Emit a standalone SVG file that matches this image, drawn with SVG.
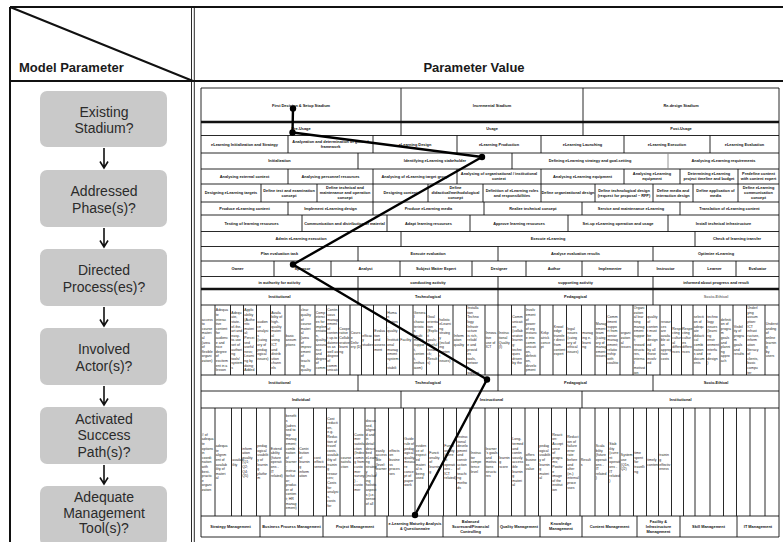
<svg xmlns="http://www.w3.org/2000/svg" width="783" height="542" viewBox="0 0 783 542">
<style>
.frame{fill:none;stroke:#111;stroke-width:2}
.box{fill:#c9c9c9}
.q{font-family:"Liberation Sans",Arial,sans-serif;font-size:14px;fill:#2b2b2b;text-anchor:middle}
.h{font-family:"Liberation Sans",Arial,sans-serif;font-size:13px;font-weight:bold;fill:#1a1a1a}
.arr{fill:none;stroke:#111;stroke-width:1.6}
.grid{fill:none;stroke:#111;stroke-width:0.9}
.thick{fill:none;stroke:#111;stroke-width:2.6}
.t{font-family:"Liberation Sans",Arial,sans-serif;font-size:3.9px;font-weight:bold;fill:#111;text-anchor:middle}
.g{fill:#777}
.s{font-family:"Liberation Sans",Arial,sans-serif;font-size:3.5px;fill:#222}
.path{fill:none;stroke:#000;stroke-width:2.4;stroke-linejoin:round;stroke-linecap:round}
</style>

<g id="frame">
<path class="frame" d="M10 7 H783 M10 7 V542 M10 81 H783 M10 7 L193 81"/>
<path class="grid" d="M191.5 7 V542 M194.3 7 V542"/>
<text class="h" x="19" y="71.5">Model Parameter</text>
<text class="h" x="474" y="71.5" text-anchor="middle">Parameter Value</text>
</g>

<g id="q1"><rect class="box" x="40" y="91" width="127" height="56" rx="7"/><text class="q" x="104" y="116.5">Existing</text><text class="q" x="104" y="133">Stadium?</text></g>
<g id="q2"><rect class="box" x="40" y="170" width="127" height="57" rx="7"/><text class="q" x="104" y="196">Addressed</text><text class="q" x="104" y="212.5">Phase(s)?</text></g>
<g id="q3"><rect class="box" x="40" y="249" width="127" height="57" rx="7"/><text class="q" x="104" y="275">Directed</text><text class="q" x="104" y="291.5">Process(es)?</text></g>
<g id="q4"><rect class="box" x="40" y="328" width="127" height="57" rx="7"/><text class="q" x="104" y="354">Involved</text><text class="q" x="104" y="370.5">Actor(s)?</text></g>
<g id="q5"><rect class="box" x="40" y="407" width="127" height="57" rx="7"/><text class="q" x="104" y="424">Activated</text><text class="q" x="104" y="440.3">Success</text><text class="q" x="104" y="456.6">Path(s)?</text></g>
<g id="q6"><rect class="box" x="40" y="486" width="127" height="60" rx="7"/><text class="q" x="104" y="501.7">Adequate</text><text class="q" x="104" y="517.5">Management</text><text class="q" x="104" y="533.3">Tool(s)?</text></g>

<g id="connectors">
<path class="arr" d="M104 148 V168 M100 161.5 L104 168 L108 161.5"/>
<path class="arr" d="M104 228 V247 M100 240.5 L104 247 L108 240.5"/>
<path class="arr" d="M104 307 V326 M100 319.5 L104 326 L108 319.5"/>
<path class="arr" d="M104 386 V405 M100 398.5 L104 405 L108 398.5"/>
<path class="arr" d="M104 465 V484 M100 477.5 L104 484 L108 477.5"/>
</g>

<g id="table">
<path class="grid" d="M201 88 H779 M201 135.5 H779 M201 153 H779 M201 169 H779 M201 184 H779 M201 202 H779 M201 215 H779 M201 231.5 H779 M201 246.5 H779 M201 261 H779 M201 276.5 H779 M201 305 H779 M201 375 H779 M201 391 H779 M201 408 H779 M201 516 H779 M201 537 H779 M201 88 V537 M779 88 V537"/>
<path class="thick" d="M201 122 H779 M201 289 H779"/>
<path class="grid" d="M401 88V135.5 M583 88V135.5
M288 135.5V153 M373 135.5V153 M457 135.5V153 M541 135.5V153 M624 135.5V153 M710 135.5V153
M358 153V169 M512 153V169
M288 169V184 M373 169V184 M457 169V184 M541 169V184 M624 169V184 M680 169V184 M738 169V184
M261 184V202 M317 184V202 M373 184V202 M428 184V202 M483 184V202 M541 184V202 M595 184V202 M653 184V202 M693 184V202 M738 184V202
M288 202V215 M373 202V215 M484 202V215 M582 202V215 M680 202V215
M302 215V231.5 M387 215V231.5 M470 215V231.5 M568 215V231.5 M668 215V231.5
M401 231.5V246.5 M695 231.5V246.5
M358 246.5V261 M498 246.5V261 M653 246.5V261
M274 261V276.5 M331 261V276.5 M400 261V276.5 M472 261V276.5 M526 261V276.5 M582 261V276.5 M638 261V276.5 M693 261V276.5 M736 261V276.5
M358 276.5V305 M498 276.5V305 M653 276.5V305
M358 375V391 M498 375V391 M653 375V391
M401 391V408 M582 391V408
M260 516V537 M323 516V537 M387 516V537 M443 516V537 M498 516V537 M540 516V537 M582 516V537 M637 516V537 M680 516V537 M737 516V537"/>
<path stroke="#888" stroke-width="0.9" d="M668 153V169"/>
<path class="grid" d="M215 305V375 M230.5 305V375 M243.5 305V375 M256.5 305V375 M270.5 305V375 M285 305V375 M300 305V375 M315 305V375 M326.5 305V375 M338.5 305V375 M350 305V375 M361.5 305V375 M373.5 305V375 M386.5 305V375 M399.5 305V375 M413 305V375 M426.5 305V375 M438.5 305V375 M453 305V375 M466.5 305V375 M485 305V375 M498 305V375 M511.5 305V375 M525 305V375 M540 305V375 M553 305V375 M566.5 305V375 M581.5 305V375 M595 305V375 M606.5 305V375 M620 305V375 M633 305V375 M646.5 305V375 M660 305V375 M671.5 305V375 M681.5 305V375 M693 305V375 M706.5 305V375 M720 305V375 M733 305V375 M746.5 305V375 M765 305V375"/>
<path class="grid" d="M215 408V516 M231.5 408V516 M241.5 408V516 M256.5 408V516 M270 408V516 M285 408V516 M298.5 408V516 M313.5 408V516 M326.5 408V516 M340 408V516 M353.5 408V516 M365 408V516 M375 408V516 M388.5 408V516 M403.5 408V516 M415 408V516 M428.5 408V516 M443.5 408V516 M456.5 408V516 M470 408V516 M485 408V516 M498.5 408V516 M511.5 408V516 M525 408V516 M538.5 408V516 M551.5 408V516 M566.5 408V516 M580 408V516 M595 408V516 M608.5 408V516 M620 408V516 M633.5 408V516 M646.5 408V516 M658.5 408V516 M671.5 408V516 M683.5 408V516 M695 408V516 M710 408V516 M723.5 408V516 M736.5 408V516 M750 408V516 M765 408V516"/>

<g class="t">
<text x="301" y="106.5">First Decision &amp; Setup Stadium</text>
<text x="492" y="106.5">Incremental Stadium</text>
<text x="681" y="106.5">Re-design Stadium</text>
<text x="301" y="130.3">Pre-Usage</text>
<text x="492" y="130.3">Usage</text>
<text x="681" y="130.3">Post-Usage</text>
<text x="244.5" y="145.7">eLearning Initialization and Strategy</text>
<text x="330.5" y="143.2">Analyzation and determination of general</text>
<text x="330.5" y="148.2">framework</text>
<text x="415" y="145.7">eLearning Design</text>
<text x="499" y="145.7">eLearning Production</text>
<text x="582.5" y="145.7">eLearning Launching</text>
<text x="667" y="145.7">eLearning Execution</text>
<text x="744.5" y="145.7">eLearning Evaluation</text>
<text x="279.5" y="162.4">Initialization</text>
<text x="435" y="162.4">Identifying eLearning stakeholder</text>
<text x="590" y="162.4">Defining eLearning strategy and goal-setting</text>
<text x="723.5" y="162.4">Analysing eLearning requirements</text>
<text x="244.5" y="177.9">Analysing external context</text>
<text x="330.5" y="177.9">Analysing personnel resources</text>
<text x="415" y="177.9">Analysing of eLearning target group</text>
<text x="499" y="175.4">Analysing of organisational / institutional</text>
<text x="499" y="180.4">context</text>
<text x="582.5" y="177.9">Analysing eLearning equipment</text>
<text x="652" y="175.4">Analysing eLearning</text>
<text x="652" y="180.4">equipment</text>
<text x="709" y="175.4">Determining eLearning</text>
<text x="709" y="180.4">project timeline and budget</text>
<text x="758.5" y="175.4">Predefine content</text>
<text x="758.5" y="180.4">with content expert</text>
<text x="231" y="194.4">Designing eLearning targets</text>
<text x="289" y="191.9">Define test and examination</text>
<text x="289" y="196.9">concept</text>
<text x="345" y="189.4">Define technical and</text>
<text x="345" y="194.4">maintenance and operation</text>
<text x="345" y="199.4">concept</text>
<text x="400.5" y="194.4">Designing content</text>
<text x="455.5" y="189.4">Define</text>
<text x="455.5" y="194.4">didactical/methodological</text>
<text x="455.5" y="199.4">concept</text>
<text x="512" y="191.9">Definition of eLearning roles</text>
<text x="512" y="196.9">and responsibilities</text>
<text x="568" y="194.4">Define organizational design</text>
<text x="624" y="191.9">Define technological design</text>
<text x="624" y="196.9">(request for proposal – RFP)</text>
<text x="673" y="191.9">Define media and</text>
<text x="673" y="196.9">interaction design</text>
<text x="715.5" y="191.9">Define application of</text>
<text x="715.5" y="196.9">media</text>
<text x="758.5" y="189.4">Define eLearning</text>
<text x="758.5" y="194.4">communication</text>
<text x="758.5" y="199.4">concept</text>
<text x="244.5" y="209.9">Produce eLearning content</text>
<text x="330.5" y="209.9">Implement eLearning design</text>
<text x="428.5" y="209.9">Produce eLearning media</text>
<text x="533" y="209.9">Realize technical concept</text>
<text x="631" y="209.9">Service and maintenance eLearning</text>
<text x="729.5" y="209.9">Translation of eLearning content</text>
<text x="251.5" y="224.6">Testing of learning resources</text>
<text x="344.5" y="224.6">Communication and distribution of material</text>
<text x="428.5" y="224.6">Adapt learning resources</text>
<text x="519" y="224.6">Approve learning resources</text>
<text x="618" y="224.6">Set-up eLearning operation and usage</text>
<text x="723.5" y="224.6">Install technical infrastructure</text>
<text x="301" y="240.4">Admin eLearning execution</text>
<text x="548" y="240.4">Execute eLearning</text>
<text x="737" y="240.4">Check of learning transfer</text>
<text x="279.5" y="255.1">Plan evaluation task</text>
<text x="428" y="255.1">Execute evaluation</text>
<text x="575.5" y="255.1">Analyse evaluation results</text>
<text x="716" y="255.1">Optimize eLearning</text>
<text x="237.5" y="270.1">Owner</text>
<text x="302.5" y="270.1">Sponsor</text>
<text x="365.5" y="270.1">Analyst</text>
<text x="436" y="270.1">Subject Matter Expert</text>
<text x="499" y="270.1">Designer</text>
<text x="554" y="270.1">Author</text>
<text x="610" y="270.1">Implementer</text>
<text x="665.5" y="270.1">Instructor</text>
<text x="714.5" y="270.1">Learner</text>
<text x="757.5" y="270.1">Evaluator</text>
<text x="279.5" y="284.1">in authority for activity</text>
<text x="428" y="284.1">conducting activity</text>
<text x="575.5" y="284.1">supporting activity</text>
<text x="716" y="284.1">informed about progress and result</text>
<text x="279.5" y="298.4">Institutional</text>
<text x="428" y="298.4">Technological</text>
<text x="575.5" y="298.4">Pedagogical</text>
<text x="716" y="298.4" class="g">Socio-Ethical</text>
<text x="279.5" y="384.4">Institutional</text>
<text x="428" y="384.4">Technological</text>
<text x="575.5" y="384.4">Pedagogical</text>
<text x="716" y="384.4">Socio-Ethical</text>
<text x="301" y="400.9">Individual</text>
<text x="491.5" y="400.9">Instructional</text>
<text x="680.5" y="400.9">Institutional</text>
<text x="230.5" y="527.9">Strategy Management</text>
<text x="291.5" y="527.9">Business Process Management</text>
<text x="355" y="527.9">Project Management</text>
<text x="415" y="525.4">e-Learning Maturity Analysis</text>
<text x="415" y="530.4">&amp; Questionnaire</text>
<text x="470.5" y="522.9">Balanced</text>
<text x="470.5" y="527.9">Scorecard/Financial</text>
<text x="470.5" y="532.9">Controlling</text>
<text x="519" y="527.9">Quality Management</text>
<text x="561" y="525.4">Knowledge</text>
<text x="561" y="530.4">Management</text>
<text x="609.5" y="527.9">Content Management</text>
<text x="658.5" y="522.9">Facility &amp;</text>
<text x="658.5" y="527.9">Infrastructure</text>
<text x="658.5" y="532.9">Management</text>
<text x="708.5" y="527.9">Skill Management</text>
<text x="758" y="527.9">IT Management</text>
</g>

<g class="s" id="success-factors">
<text x="201.8" y="320.6">access<tspan x="201.8" dy="4.6">to</tspan><tspan x="201.8" dy="4.6">course</tspan><tspan x="201.8" dy="4.6">materi</tspan><tspan x="201.8" dy="4.6">al</tspan><tspan x="201.8" dy="4.6">(area</tspan><tspan x="201.8" dy="4.6">of</tspan><tspan x="201.8" dy="4.6">flexible</tspan><tspan x="201.8" dy="4.6">organi</tspan><tspan x="201.8" dy="4.6">zation)</tspan></text>
<text x="215.8" y="311.4">Adequa<tspan x="215.8" dy="4.6">te</tspan><tspan x="215.8" dy="4.6">interac</tspan><tspan x="215.8" dy="4.6">tive</tspan><tspan x="215.8" dy="4.6">content</tspan><tspan x="215.8" dy="4.6">for</tspan><tspan x="215.8" dy="4.6">audienc</tspan><tspan x="215.8" dy="4.6">e and</tspan><tspan x="215.8" dy="4.6">nice</tspan><tspan x="215.8" dy="4.6">degree</tspan><tspan x="215.8" dy="4.6">of</tspan><tspan x="215.8" dy="4.6">excitem</tspan><tspan x="215.8" dy="4.6">ent in a</tspan><tspan x="215.8" dy="4.6">lesson</tspan></text>
<text x="231.3" y="313.7">Adequ<tspan x="231.3" dy="4.6">ate,</tspan><tspan x="231.3" dy="4.6">state-</tspan><tspan x="231.3" dy="4.6">of-the-</tspan><tspan x="231.3" dy="4.6">art and</tspan><tspan x="231.3" dy="4.6">easy-</tspan><tspan x="231.3" dy="4.6">to-use</tspan><tspan x="231.3" dy="4.6">set of</tspan><tspan x="231.3" dy="4.6">authori</tspan><tspan x="231.3" dy="4.6">ng</tspan><tspan x="231.3" dy="4.6">tools/</tspan><tspan x="231.3" dy="4.6">system</tspan><tspan x="231.3" dy="4.6">s</tspan></text>
<text x="244.3" y="311.4">Applic<tspan x="244.3" dy="4.6">ability</tspan><tspan x="244.3" dy="4.6">(Authe</tspan><tspan x="244.3" dy="4.6">ntic</tspan><tspan x="244.3" dy="4.6">materi</tspan><tspan x="244.3" dy="4.6">al;</tspan><tspan x="244.3" dy="4.6">Percei</tspan><tspan x="244.3" dy="4.6">ved</tspan><tspan x="244.3" dy="4.6">useful</tspan><tspan x="244.3" dy="4.6">ness;</tspan><tspan x="244.3" dy="4.6">Learni</tspan><tspan x="244.3" dy="4.6">ng by</tspan><tspan x="244.3" dy="4.6">doing;</tspan><tspan x="244.3" dy="4.6">Added</tspan></text>
<text x="257.3" y="322.9">audien<tspan x="257.3" dy="4.6">ce</tspan><tspan x="257.3" dy="4.6">analysi</tspan><tspan x="257.3" dy="4.6">s</tspan><tspan x="257.3" dy="4.6">(categ</tspan><tspan x="257.3" dy="4.6">ory of</tspan><tspan x="257.3" dy="4.6">pedag</tspan><tspan x="257.3" dy="4.6">ogical</tspan><tspan x="257.3" dy="4.6">issues)</tspan></text>
<text x="271.3" y="313.7">Availa<tspan x="271.3" dy="4.6">bility of</tspan><tspan x="271.3" dy="4.6">high-</tspan><tspan x="271.3" dy="4.6">quality</tspan><tspan x="271.3" dy="4.6">materi</tspan><tspan x="271.3" dy="4.6">al</tspan><tspan x="271.3" dy="4.6">using</tspan><tspan x="271.3" dy="4.6">ICT</tspan><tspan x="271.3" dy="4.6">and</tspan><tspan x="271.3" dy="4.6">distrib</tspan><tspan x="271.3" dy="4.6">ution</tspan><tspan x="271.3" dy="4.6">chann</tspan><tspan x="271.3" dy="4.6">els</tspan></text>
<text x="285.8" y="336.7">basic<tspan x="285.8" dy="4.6">assum</tspan><tspan x="285.8" dy="4.6">ptions</tspan></text>
<text x="300.8" y="311.4">clear<tspan x="300.8" dy="4.6">quality</tspan><tspan x="300.8" dy="4.6">of</tspan><tspan x="300.8" dy="4.6">course</tspan><tspan x="300.8" dy="4.6">materi</tspan><tspan x="300.8" dy="4.6">al</tspan><tspan x="300.8" dy="4.6">(area</tspan><tspan x="300.8" dy="4.6">of</tspan><tspan x="300.8" dy="4.6">improv</tspan><tspan x="300.8" dy="4.6">ement</tspan><tspan x="300.8" dy="4.6">of</tspan><tspan x="300.8" dy="4.6">teachi</tspan><tspan x="300.8" dy="4.6">ng</tspan><tspan x="300.8" dy="4.6">quality</tspan></text>
<text x="315.8" y="313.7">Comp<tspan x="315.8" dy="4.6">etenci</tspan><tspan x="315.8" dy="4.6">es for</tspan><tspan x="315.8" dy="4.6">implem</tspan><tspan x="315.8" dy="4.6">entatio</tspan><tspan x="315.8" dy="4.6">n,</tspan><tspan x="315.8" dy="4.6">quality</tspan><tspan x="315.8" dy="4.6">assura</tspan><tspan x="315.8" dy="4.6">nce</tspan><tspan x="315.8" dy="4.6">and</tspan><tspan x="315.8" dy="4.6">degree</tspan><tspan x="315.8" dy="4.6">of</tspan><tspan x="315.8" dy="4.6">comm</tspan></text>
<text x="327.3" y="311.4">Contin<tspan x="327.3" dy="4.6">uous</tspan><tspan x="327.3" dy="4.6">manag</tspan><tspan x="327.3" dy="4.6">ement</tspan><tspan x="327.3" dy="4.6">of</tspan><tspan x="327.3" dy="4.6">conten</tspan><tspan x="327.3" dy="4.6">t up-to</tspan><tspan x="327.3" dy="4.6">datene</tspan><tspan x="327.3" dy="4.6">ss as</tspan><tspan x="327.3" dy="4.6">well as</tspan><tspan x="327.3" dy="4.6">degree</tspan><tspan x="327.3" dy="4.6">of</tspan><tspan x="327.3" dy="4.6">comm</tspan><tspan x="327.3" dy="4.6">unicati</tspan></text>
<text x="339.3" y="329.8">Coope<tspan x="339.3" dy="4.6">rative</tspan><tspan x="339.3" dy="4.6">Collab</tspan><tspan x="339.3" dy="4.6">orative</tspan><tspan x="339.3" dy="4.6">learni</tspan><tspan x="339.3" dy="4.6">ng</tspan></text>
<text x="350.8" y="334.4">Cours<tspan x="350.8" dy="4.6">e</tspan><tspan x="350.8" dy="4.6">Deliv</tspan><tspan x="350.8" dy="4.6">ery (D)</tspan></text>
<text x="362.3" y="336.7">efficac<tspan x="362.3" dy="4.6">y</tspan><tspan x="362.3" dy="4.6">studies</tspan></text>
<text x="374.3" y="332.1">Evalua<tspan x="374.3" dy="4.6">tion</tspan><tspan x="374.3" dy="4.6">and</tspan><tspan x="374.3" dy="4.6">assess</tspan><tspan x="374.3" dy="4.6">ment</tspan></text>
<text x="387.3" y="313.7">Huma<tspan x="387.3" dy="4.6">n</tspan><tspan x="387.3" dy="4.6">factors</tspan><tspan x="387.3" dy="4.6">,</tspan><tspan x="387.3" dy="4.6">quality</tspan><tspan x="387.3" dy="4.6">,</tspan><tspan x="387.3" dy="4.6">Instituti</tspan><tspan x="387.3" dy="4.6">onal</tspan><tspan x="387.3" dy="4.6">manag</tspan><tspan x="387.3" dy="4.6">ement</tspan><tspan x="387.3" dy="4.6">system</tspan><tspan x="387.3" dy="4.6">,</tspan><tspan x="387.3" dy="4.6">stabili</tspan></text>
<text x="400.3" y="341.3">Facility</text>
<text x="413.8" y="313.7">Genera<tspan x="413.8" dy="4.6">l</tspan><tspan x="413.8" dy="4.6">charac</tspan><tspan x="413.8" dy="4.6">teristic</tspan><tspan x="413.8" dy="4.6">s</tspan><tspan x="413.8" dy="4.6">(multi</tspan><tspan x="413.8" dy="4.6">media</tspan><tspan x="413.8" dy="4.6">suppor</tspan><tspan x="413.8" dy="4.6">t,</tspan><tspan x="413.8" dy="4.6">conten</tspan><tspan x="413.8" dy="4.6">t,</tspan><tspan x="413.8" dy="4.6">enthus</tspan><tspan x="413.8" dy="4.6">iasm)</tspan></text>
<text x="427.3" y="318.3">Goal<tspan x="427.3" dy="4.6">orienta</tspan><tspan x="427.3" dy="4.6">tion</tspan><tspan x="427.3" dy="4.6">(Explic</tspan><tspan x="427.3" dy="4.6">it</tspan><tspan x="427.3" dy="4.6">goals;</tspan><tspan x="427.3" dy="4.6">Useful</tspan><tspan x="427.3" dy="4.6">feedba</tspan><tspan x="427.3" dy="4.6">ck;</tspan><tspan x="427.3" dy="4.6">Result</tspan><tspan x="427.3" dy="4.6">s)</tspan></text>
<text x="439.3" y="320.6">holistic<tspan x="439.3" dy="4.6">eLearni</tspan><tspan x="439.3" dy="4.6">ng</tspan><tspan x="439.3" dy="4.6">strateg</tspan><tspan x="439.3" dy="4.6">y</tspan><tspan x="439.3" dy="4.6">(includ</tspan><tspan x="439.3" dy="4.6">ing</tspan><tspan x="439.3" dy="4.6">conten</tspan><tspan x="439.3" dy="4.6">t</tspan><tspan x="439.3" dy="4.6">issues)</tspan></text>
<text x="453.8" y="336.7">Inform<tspan x="453.8" dy="4.6">ation</tspan><tspan x="453.8" dy="4.6">quality</tspan></text>
<text x="467.3" y="309.1">Installa<tspan x="467.3" dy="4.6">tion</tspan><tspan x="467.3" dy="4.6">Techno</tspan><tspan x="467.3" dy="4.6">logy</tspan><tspan x="467.3" dy="4.6">Infrastr</tspan><tspan x="467.3" dy="4.6">ucture</tspan><tspan x="467.3" dy="4.6">is rich,</tspan><tspan x="467.3" dy="4.6">reliabl</tspan><tspan x="467.3" dy="4.6">e and</tspan><tspan x="467.3" dy="4.6">provid</tspan><tspan x="467.3" dy="4.6">es</tspan><tspan x="467.3" dy="4.6">tools,</tspan><tspan x="467.3" dy="4.6">networ</tspan><tspan x="467.3" dy="4.6">k,</tspan><tspan x="467.3" dy="4.6">support</tspan></text>
<text x="485.8" y="334.4">Innova<tspan x="485.8" dy="4.6">tive</tspan><tspan x="485.8" dy="4.6">use of</tspan><tspan x="485.8" dy="4.6">ICT</tspan></text>
<text x="498.8" y="334.4">Instruc<tspan x="498.8" dy="4.6">tional</tspan><tspan x="498.8" dy="4.6">Quality</tspan><tspan x="498.8" dy="4.6">(I)</tspan></text>
<text x="512.3" y="318.3">Comm<tspan x="512.3" dy="4.6">unicati</tspan><tspan x="512.3" dy="4.6">on</tspan><tspan x="512.3" dy="4.6">(collab</tspan><tspan x="512.3" dy="4.6">orative</tspan><tspan x="512.3" dy="4.6">learnin</tspan><tspan x="512.3" dy="4.6">g:</tspan><tspan x="512.3" dy="4.6">techni</tspan><tspan x="512.3" dy="4.6">ques</tspan><tspan x="512.3" dy="4.6">driven</tspan><tspan x="512.3" dy="4.6">by the</tspan></text>
<text x="525.8" y="311.4">Involv<tspan x="525.8" dy="4.6">ement</tspan><tspan x="525.8" dy="4.6">of</tspan><tspan x="525.8" dy="4.6">power</tspan><tspan x="525.8" dy="4.6">of org</tspan><tspan x="525.8" dy="4.6">instanc</tspan><tspan x="525.8" dy="4.6">e into</tspan><tspan x="525.8" dy="4.6">comm</tspan><tspan x="525.8" dy="4.6">unicati</tspan><tspan x="525.8" dy="4.6">on,</tspan><tspan x="525.8" dy="4.6">definiti</tspan><tspan x="525.8" dy="4.6">on,</tspan><tspan x="525.8" dy="4.6">develo</tspan><tspan x="525.8" dy="4.6">pment</tspan></text>
<text x="540.8" y="334.4">Kirkp<tspan x="540.8" dy="4.6">atrick</tspan><tspan x="540.8" dy="4.6">conce</tspan><tspan x="540.8" dy="4.6">pt</tspan></text>
<text x="553.8" y="327.5">Knowl<tspan x="553.8" dy="4.6">edge</tspan><tspan x="553.8" dy="4.6">transfe</tspan><tspan x="553.8" dy="4.6">r direct</tspan><tspan x="553.8" dy="4.6">from</tspan><tspan x="553.8" dy="4.6">content</tspan><tspan x="553.8" dy="4.6">expert</tspan></text>
<text x="567.3" y="329.8">legal<tspan x="567.3" dy="4.6">issues</tspan><tspan x="567.3" dy="4.6">(categ</tspan><tspan x="567.3" dy="4.6">ory of</tspan><tspan x="567.3" dy="4.6">ethical</tspan><tspan x="567.3" dy="4.6">issues)</tspan></text>
<text x="582.3" y="334.4">manag<tspan x="582.3" dy="4.6">ing e-</tspan><tspan x="582.3" dy="4.6">learni</tspan><tspan x="582.3" dy="4.6">ng</tspan></text>
<text x="595.8" y="325.2">Manag<tspan x="595.8" dy="4.6">ement</tspan><tspan x="595.8" dy="4.6">team</tspan><tspan x="595.8" dy="4.6">(categ</tspan><tspan x="595.8" dy="4.6">ory of</tspan><tspan x="595.8" dy="4.6">manag</tspan><tspan x="595.8" dy="4.6">ement</tspan><tspan x="595.8" dy="4.6">issues)</tspan></text>
<text x="607.3" y="318.3">Comm<tspan x="607.3" dy="4.6">itment</tspan><tspan x="607.3" dy="4.6">suppo</tspan><tspan x="607.3" dy="4.6">rt from</tspan><tspan x="607.3" dy="4.6">senior</tspan><tspan x="607.3" dy="4.6">manag</tspan><tspan x="607.3" dy="4.6">ement;</tspan><tspan x="607.3" dy="4.6">relatio</tspan><tspan x="607.3" dy="4.6">nship</tspan><tspan x="607.3" dy="4.6">with</tspan><tspan x="607.3" dy="4.6">coalitio</tspan></text>
<text x="620.8" y="334.4">organi<tspan x="620.8" dy="4.6">zation</tspan><tspan x="620.8" dy="4.6">al</tspan><tspan x="620.8" dy="4.6">issues</tspan></text>
<text x="633.8" y="309.1">Organi<tspan x="633.8" dy="4.6">zation</tspan><tspan x="633.8" dy="4.6">al lear</tspan><tspan x="633.8" dy="4.6">ning</tspan><tspan x="633.8" dy="4.6">manag</tspan><tspan x="633.8" dy="4.6">ement</tspan><tspan x="633.8" dy="4.6">suppor</tspan><tspan x="633.8" dy="4.6">t;</tspan><tspan x="633.8" dy="4.6">reward</tspan><tspan x="633.8" dy="4.6">structu</tspan><tspan x="633.8" dy="4.6">res,</tspan><tspan x="633.8" dy="4.6">interna</tspan><tspan x="633.8" dy="4.6">l</tspan><tspan x="633.8" dy="4.6">motivat</tspan><tspan x="633.8" dy="4.6">ion</tspan></text>
<text x="647.3" y="318.3">quality<tspan x="647.3" dy="4.6">of</tspan><tspan x="647.3" dy="4.6">conten</tspan><tspan x="647.3" dy="4.6">t must</tspan><tspan x="647.3" dy="4.6">be</tspan><tspan x="647.3" dy="4.6">design</tspan><tspan x="647.3" dy="4.6">ed</tspan><tspan x="647.3" dy="4.6">by all</tspan><tspan x="647.3" dy="4.6">those</tspan><tspan x="647.3" dy="4.6">involv</tspan><tspan x="647.3" dy="4.6">ed</tspan></text>
<text x="660.8" y="322.9">resour<tspan x="660.8" dy="4.6">ces</tspan><tspan x="660.8" dy="4.6">are</tspan><tspan x="660.8" dy="4.6">availa</tspan><tspan x="660.8" dy="4.6">ble at</tspan><tspan x="660.8" dy="4.6">an</tspan><tspan x="660.8" dy="4.6">approp</tspan><tspan x="660.8" dy="4.6">riate</tspan><tspan x="660.8" dy="4.6">costs</tspan></text>
<text x="672.3" y="329.8">Respe<tspan x="672.3" dy="4.6">cting</tspan><tspan x="672.3" dy="4.6">cultur</tspan><tspan x="672.3" dy="4.6">al</tspan><tspan x="672.3" dy="4.6">differe</tspan><tspan x="672.3" dy="4.6">nces</tspan></text>
<text x="682.3" y="329.8">Respe<tspan x="682.3" dy="4.6">cting</tspan><tspan x="682.3" dy="4.6">cultur</tspan><tspan x="682.3" dy="4.6">es</tspan><tspan x="682.3" dy="4.6">differe</tspan><tspan x="682.3" dy="4.6">nces</tspan></text>
<text x="693.8" y="318.3">selecti<tspan x="693.8" dy="4.6">on of</tspan><tspan x="693.8" dy="4.6">adequ</tspan><tspan x="693.8" dy="4.6">ate</tspan><tspan x="693.8" dy="4.6">didacti</tspan><tspan x="693.8" dy="4.6">cal</tspan><tspan x="693.8" dy="4.6">combi</tspan><tspan x="693.8" dy="4.6">nation</tspan><tspan x="693.8" dy="4.6">s and</tspan><tspan x="693.8" dy="4.6">docum</tspan><tspan x="693.8" dy="4.6">ents</tspan></text>
<text x="707.3" y="318.3">techno<tspan x="707.3" dy="4.6">logy</tspan><tspan x="707.3" dy="4.6">issues</tspan><tspan x="707.3" dy="4.6">(learni</tspan><tspan x="707.3" dy="4.6">ng</tspan><tspan x="707.3" dy="4.6">envir</tspan><tspan x="707.3" dy="4.6">onment</tspan><tspan x="707.3" dy="4.6">interfa</tspan><tspan x="707.3" dy="4.6">ce</tspan><tspan x="707.3" dy="4.6">design</tspan><tspan x="707.3" dy="4.6">)</tspan></text>
<text x="720.8" y="320.6">definiti<tspan x="720.8" dy="4.6">on of</tspan><tspan x="720.8" dy="4.6">progra</tspan><tspan x="720.8" dy="4.6">m</tspan><tspan x="720.8" dy="4.6">goals</tspan><tspan x="720.8" dy="4.6">and</tspan><tspan x="720.8" dy="4.6">planni</tspan><tspan x="720.8" dy="4.6">ng</tspan><tspan x="720.8" dy="4.6">appro</tspan><tspan x="720.8" dy="4.6">ach</tspan></text>
<text x="733.8" y="327.5">Visibil<tspan x="733.8" dy="4.6">ity of</tspan><tspan x="733.8" dy="4.6">progra</tspan><tspan x="733.8" dy="4.6">m</tspan><tspan x="733.8" dy="4.6">goals</tspan><tspan x="733.8" dy="4.6">and</tspan><tspan x="733.8" dy="4.6">results</tspan></text>
<text x="747.3" y="309.1">Underl<tspan x="747.3" dy="4.6">ying</tspan><tspan x="747.3" dy="4.6">assum</tspan><tspan x="747.3" dy="4.6">ption:</tspan><tspan x="747.3" dy="4.6">ICT</tspan><tspan x="747.3" dy="4.6">infrast</tspan><tspan x="747.3" dy="4.6">ructure,</tspan><tspan x="747.3" dy="4.6">inform</tspan><tspan x="747.3" dy="4.6">ation</tspan><tspan x="747.3" dy="4.6">literacy</tspan><tspan x="747.3" dy="4.6">of</tspan><tspan x="747.3" dy="4.6">clients,</tspan><tspan x="747.3" dy="4.6">basic</tspan><tspan x="747.3" dy="4.6">compu</tspan><tspan x="747.3" dy="4.6">ter</tspan></text>
<text x="765.8" y="325.2">Underst<tspan x="765.8" dy="4.6">anding</tspan><tspan x="765.8" dy="4.6">of</tspan><tspan x="765.8" dy="4.6">online</tspan><tspan x="765.8" dy="4.6">learnin</tspan><tspan x="765.8" dy="4.6">g</tspan><tspan x="765.8" dy="4.6">by</tspan><tspan x="765.8" dy="4.6">users</tspan></text>
</g>

<g class="s" id="success-paths">
<text x="201.8" y="435.7"># of<tspan x="201.8" dy="4.6">adequa</tspan><tspan x="201.8" dy="4.6">te</tspan><tspan x="201.8" dy="4.6">options</tspan><tspan x="201.8" dy="4.6">in</tspan><tspan x="201.8" dy="4.6">coordi</tspan><tspan x="201.8" dy="4.6">nation</tspan><tspan x="201.8" dy="4.6">with</tspan><tspan x="201.8" dy="4.6">best-</tspan><tspan x="201.8" dy="4.6">practic</tspan><tspan x="201.8" dy="4.6">e</tspan><tspan x="201.8" dy="4.6">organi</tspan><tspan x="201.8" dy="4.6">zation</tspan></text>
<text x="215.8" y="447.2">adequa<tspan x="215.8" dy="4.6">te</tspan><tspan x="215.8" dy="4.6">alignm</tspan><tspan x="215.8" dy="4.6">ent of</tspan><tspan x="215.8" dy="4.6">availab</tspan><tspan x="215.8" dy="4.6">ility of</tspan><tspan x="215.8" dy="4.6">materi</tspan><tspan x="215.8" dy="4.6">al</tspan></text>
<text x="232.3" y="461">availab<tspan x="232.3" dy="4.6">ility</tspan></text>
<text x="242.3" y="449.5">inform<tspan x="242.3" dy="4.6">ation</tspan><tspan x="242.3" dy="4.6">quality</tspan><tspan x="242.3" dy="4.6">(Q1;</tspan><tspan x="242.3" dy="4.6">Q2;</tspan><tspan x="242.3" dy="4.6">Q4;</tspan><tspan x="242.3" dy="4.6">Q5)</tspan></text>
<text x="257.3" y="447.2">pedag<tspan x="257.3" dy="4.6">ogical</tspan><tspan x="257.3" dy="4.6">usabilit</tspan><tspan x="257.3" dy="4.6">y of</tspan><tspan x="257.3" dy="4.6">learnin</tspan><tspan x="257.3" dy="4.6">g</tspan><tspan x="257.3" dy="4.6">platfor</tspan><tspan x="257.3" dy="4.6">m</tspan></text>
<text x="270.8" y="449.5">Extend<tspan x="270.8" dy="4.6">ability</tspan><tspan x="270.8" dy="4.6">(future</tspan><tspan x="270.8" dy="4.6">operati</tspan><tspan x="270.8" dy="4.6">ons -</tspan><tspan x="270.8" dy="4.6">IT</tspan><tspan x="270.8" dy="4.6">related)</tspan></text>
<text x="285.8" y="417.3">benefit<tspan x="285.8" dy="4.6">s</tspan><tspan x="285.8" dy="4.6">(adres</tspan><tspan x="285.8" dy="4.6">sed to</tspan><tspan x="285.8" dy="4.6">top</tspan><tspan x="285.8" dy="4.6">manag</tspan><tspan x="285.8" dy="4.6">ement;</tspan><tspan x="285.8" dy="4.6">combi</tspan><tspan x="285.8" dy="4.6">nation</tspan><tspan x="285.8" dy="4.6">of</tspan><tspan x="285.8" dy="4.6">learner</tspan><tspan x="285.8" dy="4.6">;</tspan><tspan x="285.8" dy="4.6">instruc</tspan><tspan x="285.8" dy="4.6">tor/tut</tspan><tspan x="285.8" dy="4.6">or;</tspan><tspan x="285.8" dy="4.6">produc</tspan><tspan x="285.8" dy="4.6">er of</tspan><tspan x="285.8" dy="4.6">conten</tspan><tspan x="285.8" dy="4.6">t; HR</tspan><tspan x="285.8" dy="4.6">manag</tspan><tspan x="285.8" dy="4.6">ement)</tspan></text>
<text x="299.3" y="449.5">Contri<tspan x="299.3" dy="4.6">bution</tspan><tspan x="299.3" dy="4.6">of</tspan><tspan x="299.3" dy="4.6">learnin</tspan><tspan x="299.3" dy="4.6">g</tspan><tspan x="299.3" dy="4.6">inform</tspan><tspan x="299.3" dy="4.6">ation</tspan></text>
<text x="314.3" y="458.7">cost<tspan x="314.3" dy="4.6">effecti</tspan><tspan x="314.3" dy="4.6">veness</tspan></text>
<text x="327.3" y="419.6">Cost<tspan x="327.3" dy="4.6">reducti</tspan><tspan x="327.3" dy="4.6">on,</tspan><tspan x="327.3" dy="4.6">e.g.</tspan><tspan x="327.3" dy="4.6">Reduc</tspan><tspan x="327.3" dy="4.6">tion of</tspan><tspan x="327.3" dy="4.6">travel</tspan><tspan x="327.3" dy="4.6">costs,</tspan><tspan x="327.3" dy="4.6">availab</tspan><tspan x="327.3" dy="4.6">ility of</tspan><tspan x="327.3" dy="4.6">trainin</tspan><tspan x="327.3" dy="4.6">g</tspan><tspan x="327.3" dy="4.6">resour</tspan><tspan x="327.3" dy="4.6">ces;</tspan><tspan x="327.3" dy="4.6">Costs</tspan><tspan x="327.3" dy="4.6">for</tspan><tspan x="327.3" dy="4.6">analysi</tspan><tspan x="327.3" dy="4.6">s,</tspan><tspan x="327.3" dy="4.6">costs</tspan><tspan x="327.3" dy="4.6">for</tspan></text>
<text x="340.8" y="458.7">course<tspan x="340.8" dy="4.6">satisfa</tspan><tspan x="340.8" dy="4.6">ction</tspan></text>
<text x="354.3" y="435.7">Custo<tspan x="354.3" dy="4.6">mer</tspan><tspan x="354.3" dy="4.6">satisfa</tspan><tspan x="354.3" dy="4.6">ction</tspan><tspan x="354.3" dy="4.6">(Index</tspan><tspan x="354.3" dy="4.6">comin</tspan><tspan x="354.3" dy="4.6">g from</tspan><tspan x="354.3" dy="4.6">custo</tspan><tspan x="354.3" dy="4.6">mer</tspan><tspan x="354.3" dy="4.6">survey</tspan><tspan x="354.3" dy="4.6">) -</tspan><tspan x="354.3" dy="4.6">custo</tspan><tspan x="354.3" dy="4.6">mer</tspan></text>
<text x="365.8" y="421.9">discus<tspan x="365.8" dy="4.6">sed,</tspan><tspan x="365.8" dy="4.6">aligne</tspan><tspan x="365.8" dy="4.6">d and</tspan><tspan x="365.8" dy="4.6">in</tspan><tspan x="365.8" dy="4.6">detail</tspan><tspan x="365.8" dy="4.6">descri</tspan><tspan x="365.8" dy="4.6">bed</tspan><tspan x="365.8" dy="4.6">eLearni</tspan><tspan x="365.8" dy="4.6">ng</tspan><tspan x="365.8" dy="4.6">strateg</tspan><tspan x="365.8" dy="4.6">y</tspan><tspan x="365.8" dy="4.6">(includ</tspan><tspan x="365.8" dy="4.6">ing</tspan><tspan x="365.8" dy="4.6">holistic</tspan><tspan x="365.8" dy="4.6">aspect</tspan><tspan x="365.8" dy="4.6">s (i.e.</tspan><tspan x="365.8" dy="4.6">sense</tspan><tspan x="365.8" dy="4.6">of all</tspan></text>
<text x="375.8" y="451.8">easily<tspan x="375.8" dy="4.6">access</tspan><tspan x="375.8" dy="4.6">ible</tspan><tspan x="375.8" dy="4.6">(level:</tspan><tspan x="375.8" dy="4.6">learner</tspan><tspan x="375.8" dy="4.6">)</tspan></text>
<text x="389.3" y="451.8">effects<tspan x="389.3" dy="4.6">on</tspan><tspan x="389.3" dy="4.6">busine</tspan><tspan x="389.3" dy="4.6">ss</tspan><tspan x="389.3" dy="4.6">proces</tspan><tspan x="389.3" dy="4.6">ses</tspan></text>
<text x="404.3" y="440.3">Guide<tspan x="404.3" dy="4.6">rule of</tspan><tspan x="404.3" dy="4.6">pedag</tspan><tspan x="404.3" dy="4.6">ogical,</tspan><tspan x="404.3" dy="4.6">quality-</tspan><tspan x="404.3" dy="4.6">measu</tspan><tspan x="404.3" dy="4.6">re</tspan><tspan x="404.3" dy="4.6">conce</tspan><tspan x="404.3" dy="4.6">pt of</tspan><tspan x="404.3" dy="4.6">paper</tspan><tspan x="404.3" dy="4.6">work</tspan></text>
<text x="415.8" y="447.2">eviden<tspan x="415.8" dy="4.6">ce of</tspan><tspan x="415.8" dy="4.6">expect</tspan><tspan x="415.8" dy="4.6">ed</tspan><tspan x="415.8" dy="4.6">materi</tspan><tspan x="415.8" dy="4.6">al is</tspan><tspan x="415.8" dy="4.6">being</tspan><tspan x="415.8" dy="4.6">used</tspan></text>
<text x="429.3" y="454.1">Functi<tspan x="429.3" dy="4.6">onality</tspan><tspan x="429.3" dy="4.6">of</tspan><tspan x="429.3" dy="4.6">learnin</tspan><tspan x="429.3" dy="4.6">g</tspan></text>
<text x="444.3" y="447.2">Functi<tspan x="444.3" dy="4.6">onality</tspan><tspan x="444.3" dy="4.6">(curre</tspan><tspan x="444.3" dy="4.6">nt</tspan><tspan x="444.3" dy="4.6">operati</tspan><tspan x="444.3" dy="4.6">ons -</tspan><tspan x="444.3" dy="4.6">ICT</tspan><tspan x="444.3" dy="4.6">related)</tspan></text>
<text x="457.3" y="438">Instruc<tspan x="457.3" dy="4.6">tional</tspan><tspan x="457.3" dy="4.6">develo</tspan><tspan x="457.3" dy="4.6">pment</tspan><tspan x="457.3" dy="4.6">and</tspan><tspan x="457.3" dy="4.6">constr</tspan><tspan x="457.3" dy="4.6">uction</tspan><tspan x="457.3" dy="4.6">of</tspan><tspan x="457.3" dy="4.6">teachi</tspan><tspan x="457.3" dy="4.6">ng</tspan><tspan x="457.3" dy="4.6">metho</tspan><tspan x="457.3" dy="4.6">ds</tspan></text>
<text x="470.8" y="454.1">Instruc<tspan x="470.8" dy="4.6">tor</tspan><tspan x="470.8" dy="4.6">compe</tspan><tspan x="470.8" dy="4.6">tence</tspan><tspan x="470.8" dy="4.6">level</tspan></text>
<text x="485.8" y="449.5">learner<tspan x="485.8" dy="4.6">'s goals</tspan><tspan x="485.8" dy="4.6">and</tspan><tspan x="485.8" dy="4.6">motiva</tspan><tspan x="485.8" dy="4.6">tions</tspan><tspan x="485.8" dy="4.6">structu</tspan><tspan x="485.8" dy="4.6">res</tspan></text>
<text x="499.3" y="458.7">learnin<tspan x="499.3" dy="4.6">g</tspan><tspan x="499.3" dy="4.6">score</tspan></text>
<text x="512.3" y="440.3">Long-<tspan x="512.3" dy="4.6">termed</tspan><tspan x="512.3" dy="4.6">and</tspan><tspan x="512.3" dy="4.6">contin</tspan><tspan x="512.3" dy="4.6">uously</tspan><tspan x="512.3" dy="4.6">access</tspan><tspan x="512.3" dy="4.6">ible</tspan><tspan x="512.3" dy="4.6">learnin</tspan><tspan x="512.3" dy="4.6">g</tspan><tspan x="512.3" dy="4.6">materi</tspan><tspan x="512.3" dy="4.6">al</tspan></text>
<text x="525.8" y="456.4">offers<tspan x="525.8" dy="4.6">busine</tspan><tspan x="525.8" dy="4.6">ss</tspan><tspan x="525.8" dy="4.6">value</tspan></text>
<text x="539.3" y="447.2">pedag<tspan x="539.3" dy="4.6">ogical</tspan><tspan x="539.3" dy="4.6">usabilit</tspan><tspan x="539.3" dy="4.6">y of</tspan><tspan x="539.3" dy="4.6">learnin</tspan><tspan x="539.3" dy="4.6">g</tspan><tspan x="539.3" dy="4.6">materi</tspan><tspan x="539.3" dy="4.6">al</tspan></text>
<text x="552.3" y="435.7">Reacti<tspan x="552.3" dy="4.6">on:</tspan><tspan x="552.3" dy="4.6">Accept</tspan><tspan x="552.3" dy="4.6">ance</tspan><tspan x="552.3" dy="4.6">of</tspan><tspan x="552.3" dy="4.6">progra</tspan><tspan x="552.3" dy="4.6">ms;</tspan><tspan x="552.3" dy="4.6">Positiv</tspan><tspan x="552.3" dy="4.6">e</tspan><tspan x="552.3" dy="4.6">image</tspan><tspan x="552.3" dy="4.6">of the</tspan><tspan x="552.3" dy="4.6">institut</tspan><tspan x="552.3" dy="4.6">ion</tspan></text>
<text x="567.3" y="438">Reduct<tspan x="567.3" dy="4.6">ion of</tspan><tspan x="567.3" dy="4.6">failure</tspan><tspan x="567.3" dy="4.6">error</tspan><tspan x="567.3" dy="4.6">rate</tspan><tspan x="567.3" dy="4.6">before</tspan><tspan x="567.3" dy="4.6">and</tspan><tspan x="567.3" dy="4.6">after</tspan><tspan x="567.3" dy="4.6">(in-)</tspan><tspan x="567.3" dy="4.6">internal</tspan><tspan x="567.3" dy="4.6">proce</tspan><tspan x="567.3" dy="4.6">sses</tspan></text>
<text x="580.8" y="461">Result<tspan x="580.8" dy="4.6">s</tspan></text>
<text x="595.8" y="447.2">Scala<tspan x="595.8" dy="4.6">bility</tspan><tspan x="595.8" dy="4.6">(future</tspan><tspan x="595.8" dy="4.6">operati</tspan><tspan x="595.8" dy="4.6">ons -</tspan><tspan x="595.8" dy="4.6">IT</tspan><tspan x="595.8" dy="4.6">related</tspan><tspan x="595.8" dy="4.6">)</tspan></text>
<text x="609.3" y="444.9">Stab<tspan x="609.3" dy="4.6">ility</tspan><tspan x="609.3" dy="4.6">(curre</tspan><tspan x="609.3" dy="4.6">nt</tspan><tspan x="609.3" dy="4.6">operati</tspan><tspan x="609.3" dy="4.6">ons -</tspan><tspan x="609.3" dy="4.6">IT</tspan><tspan x="609.3" dy="4.6">related</tspan><tspan x="609.3" dy="4.6">)</tspan></text>
<text x="620.8" y="456.4">System<tspan x="620.8" dy="4.6">use</tspan><tspan x="620.8" dy="4.6">(Q1n,</tspan><tspan x="620.8" dy="4.6">Q2)</tspan></text>
<text x="634.3" y="454.1">time<tspan x="634.3" dy="4.6">spent</tspan><tspan x="634.3" dy="4.6">for</tspan><tspan x="634.3" dy="4.6">travelli</tspan><tspan x="634.3" dy="4.6">ng</tspan></text>
<text x="647.3" y="461">timely<tspan x="647.3" dy="4.6">content</tspan></text>
<text x="659.3" y="456.4">trainin<tspan x="659.3" dy="4.6">g</tspan><tspan x="659.3" dy="4.6">effectiv</tspan><tspan x="659.3" dy="4.6">eness</tspan></text>
</g>
</g>

<g id="selection-path">
<polyline class="path" points="293,108.5 292.5,132.5 482,157 293,264.5 487,379.5 415,515"/>
<g fill="#000">
<circle cx="293" cy="108.5" r="3.2"/>
<circle cx="292.5" cy="132.5" r="3.2"/>
<circle cx="482" cy="157" r="3.2"/>
<circle cx="293" cy="264.5" r="3.2"/>
<circle cx="487" cy="379.5" r="3.2"/>
<circle cx="415" cy="515" r="3.2"/>
</g>
</g>
</svg>
